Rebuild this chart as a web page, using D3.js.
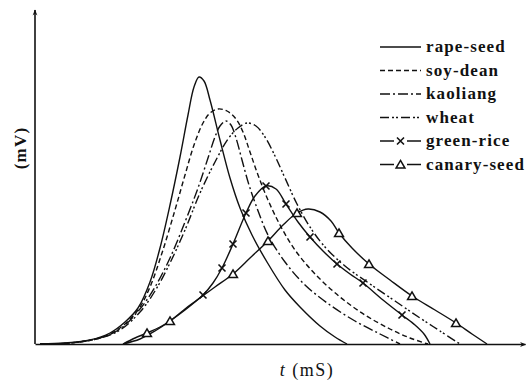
<!DOCTYPE html>
<html>
<head>
<meta charset="utf-8">
<script src="https://cdn.jsdelivr.net/npm/d3@7"></script>
<style>
  html, body { margin: 0; padding: 0; background: #fff; }
  svg { display: block; }
  .lbl { font-family: "Liberation Serif", "DejaVu Serif", serif; fill: #111; }
</style>
</head>
<body>
<svg id="chart" width="531" height="380"></svg>
<script>
// Signal curves: [t (mS), amplitude (mV, arbitrary units)]
const rapeSeed = [[0.5,0],[3.0,0.1],[5.5,0.4],[7.5,1.1],[9.0,2.2],[10.3,3.6],[11.5,6.2],[12.5,9.6],[13.5,13.9],[14.5,18.7],[15.3,22.9],[15.9,25.7],[16.4,26.7],[16.9,26.3],[17.5,24.4],[18.5,20.4],[19.5,16.6],[20.5,13.6],[21.7,10.9],[23.2,8.2],[25.0,5.4],[26.5,3.7],[28.5,1.8],[30.0,0.7],[31.2,0]];
const soyDean = [[0.5,0],[3.5,0.1],[6.5,0.6],[8.5,1.6],[10.3,3.4],[11.5,5.7],[12.7,9.1],[14.0,13.4],[15.0,16.9],[15.9,19.9],[16.8,22.1],[17.5,23.1],[18.3,23.5],[19.2,23.3],[20.1,22.5],[20.8,21.2],[21.5,19.2],[22.3,16.9],[23.3,14.4],[24.5,11.9],[26.0,9.4],[28.0,7.0],[30.5,4.7],[33.0,2.9],[35.5,1.5],[37.5,0.6],[39.3,0]];
const kaoliang = [[0.5,0],[3.5,0.1],[6.5,0.6],[8.5,1.5],[10.5,3.5],[12.0,5.7],[13.5,8.6],[15.0,12.2],[16.3,15.6],[17.3,18.6],[18.0,20.7],[18.5,21.8],[19.1,22.3],[19.6,21.9],[20.1,20.6],[20.7,18.4],[21.4,15.9],[22.2,13.6],[23.3,10.9],[25.0,8.2],[27.0,5.9],[29.5,3.9],[32.0,2.3],[34.5,1.0],[36.5,0]];
const wheat = [[0.5,0],[3.5,0.1],[6.5,0.6],[8.5,1.4],[10.5,3.2],[12.0,5.3],[13.5,8.1],[15.0,11.4],[16.5,15.1],[18.0,18.2],[19.3,20.5],[20.3,21.6],[21.2,22.1],[22.1,21.8],[23.0,20.7],[24.0,18.8],[25.0,16.6],[26.2,14.0],[27.5,11.7],[29.0,9.7],[31.0,7.8],[33.5,6.0],[36.0,4.3],[38.5,2.6],[40.5,1.3],[42.5,0]];
const greenRice = [[8.8,0],[10.5,0.5],[12.0,1.3],[13.5,2.3],[15.0,3.5],[16.8,4.9],[17.8,6.1],[18.7,7.6],[19.8,10.0],[21.1,13.1],[22.0,14.8],[23.1,15.8],[24.1,15.5],[25.1,14.0],[26.3,12.2],[27.5,10.7],[28.8,9.3],[30.2,8.0],[31.5,7.0],[32.8,6.1],[34.8,4.4],[36.7,2.9],[38.0,1.9],[38.9,1.0],[39.5,0]];
const canarySeed = [[8.8,0],[10.0,0.6],[11.2,1.1],[12.5,1.7],[13.5,2.3],[15.0,3.4],[16.5,4.6],[18.0,5.7],[19.8,7.0],[21.5,8.6],[23.3,10.3],[24.8,11.9],[26.2,13.1],[27.3,13.5],[28.5,13.2],[29.6,12.3],[30.4,11.1],[31.7,9.6],[33.4,8.0],[35.5,6.4],[37.7,4.8],[40.0,3.4],[42.1,2.1],[43.7,1.0],[45.2,0]];

// Indices of the points that carry a symbol
const greenRiceMarks = [5, 7, 8, 9, 11, 13, 15, 17, 19, 21];
const canarySeedMarks = [2, 4, 8, 10, 12, 16, 18, 20, 22];

const seriesNames = ["rape-seed", "soy-dean", "kaoliang", "wheat", "green-rice", "canary-seed"];
const seriesData = [rapeSeed, soyDean, kaoliang, wheat, greenRice, canarySeed];
const seriesMarks = [[], [], [], [], greenRiceMarks, canarySeedMarks];

const xLabel = "(mS)";
const yLabel = "(mV)";

// Drawing styles per series
const dashes = [null, "5,3", "10,3,2,3", "9,3,2,2,2,3", null, null];
const symbols = [null, null, null, null, "cross", "triangle"];

const svg = d3.select("#chart");

const x = d3.scaleLinear().domain([0, 49]).range([35, 525]);
const y = d3.scaleLinear().domain([0, 33.4]).range([344, 10]);

// arrowhead
svg.append("defs").append("marker")
  .attr("id", "arrow")
  .attr("viewBox", "0 0 10 10")
  .attr("refX", 9).attr("refY", 5)
  .attr("markerWidth", 8).attr("markerHeight", 6)
  .attr("markerUnits", "userSpaceOnUse")
  .attr("orient", "auto")
  .append("path").attr("d", "M0,1 L10,5 L0,9 L3,5 Z").attr("fill", "#111");

// axes (no ticks)
const xAxis = svg.append("g").attr("transform", `translate(0,${y(0)})`)
  .call(d3.axisBottom(x).tickValues([]).tickSizeOuter(0));
xAxis.select(".domain").attr("stroke", "#111").attr("stroke-width", 1.6)
  .attr("marker-end", "url(#arrow)");

const yAxis = svg.append("g").attr("transform", `translate(${x(0)},0)`)
  .call(d3.axisLeft(y).tickValues([]).tickSizeOuter(0));
yAxis.select(".domain").attr("stroke", "#111").attr("stroke-width", 1.6)
  .attr("d", `M0,${y(0)}V${y(33.4)}`)
  .attr("marker-end", "url(#arrow)");

const line = d3.line()
  .x(d => x(d[0]))
  .y(d => y(d[1]))
  .curve(d3.curveCatmullRom.alpha(0.5));

const plot = svg.append("g");

seriesData.forEach((data, i) => {
  plot.append("path")
    .datum(data)
    .attr("d", line)
    .attr("fill", "none")
    .attr("stroke", "#111")
    .attr("stroke-width", 1.4)
    .attr("stroke-dasharray", dashes[i]);
});

function drawSymbol(g, kind, cx, cy) {
  if (kind === "cross") {
    g.append("path")
      .attr("d", `M${cx-3.5},${cy-3.5}L${cx+3.5},${cy+3.5}M${cx+3.5},${cy-3.5}L${cx-3.5},${cy+3.5}`)
      .attr("stroke", "#111").attr("stroke-width", 1.6).attr("fill", "none");
  } else if (kind === "triangle") {
    g.append("path")
      .attr("transform", `translate(${cx},${cy + 1})`)
      .attr("d", d3.symbol(d3.symbolTriangle, 34)())
      .attr("fill", "#fff").attr("stroke", "#111").attr("stroke-width", 1.5);
  }
}

seriesData.forEach((data, i) => {
  seriesMarks[i].forEach(k => {
    drawSymbol(plot, symbols[i], x(data[k][0]), y(data[k][1]));
  });
});

// legend
const legend = svg.append("g");
seriesNames.forEach((name, i) => {
  const ly = 47 + 23.5 * i;
  legend.append("line")
    .attr("x1", 380).attr("x2", 421).attr("y1", ly).attr("y2", ly)
    .attr("stroke", "#111").attr("stroke-width", 1.5)
    .attr("stroke-dasharray", dashes[i]);
  if (symbols[i]) {
    legend.append("rect").attr("x", 394).attr("y", ly - 5).attr("width", 13).attr("height", 10).attr("fill", "#fff");
    drawSymbol(legend, symbols[i], 400.5, ly);
  }
  legend.append("text")
    .attr("class", "lbl")
    .attr("x", 426).attr("y", ly + 5)
    .attr("font-size", 17).attr("font-weight", "bold")
    .attr("letter-spacing", 1.1)
    .text(name);
});

// axis titles
svg.append("text")
  .attr("class", "lbl")
  .attr("transform", "translate(26,148) rotate(-90)")
  .attr("text-anchor", "middle")
  .attr("font-size", 17).attr("font-weight", "bold")
  .attr("letter-spacing", 1.2)
  .text(yLabel);

const xt = svg.append("text")
  .attr("class", "lbl")
  .attr("x", 307).attr("y", 376)
  .attr("text-anchor", "middle")
  .attr("font-size", 18)
  .attr("letter-spacing", 1.5);
xt.append("tspan").attr("font-style", "italic").text("t ");
xt.append("tspan").text(xLabel);
</script>
</body>
</html>
